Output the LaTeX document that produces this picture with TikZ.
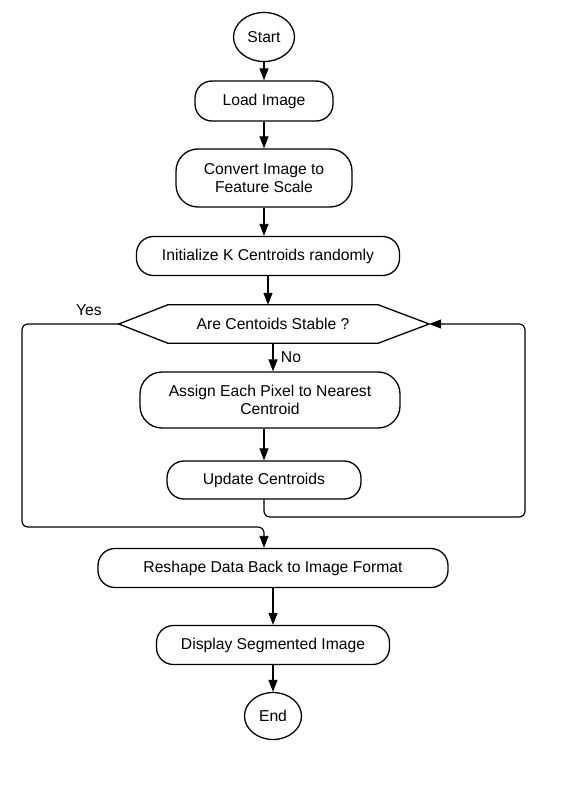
\documentclass[tikz,border=0pt]{standalone}
\usepackage{fontspec}
\setmainfont{Liberation Sans}
\usepackage{tikz}
\usetikzlibrary{positioning, arrows.meta, shapes.geometric}

\begin{document}
\begin{tikzpicture}[x=1pt, y=-1pt,
    font=\fontsize{15.7}{17.5}\selectfont,
    box/.style={draw, line width=1.3pt, rounded corners=17pt, align=center, inner sep=0pt},
    term/.style={draw, ellipse, line width=1.3pt, inner sep=0pt},
    flow/.style={line width=1.2pt, -{Triangle[length=12pt, width=9pt]}}]
    \useasboundingbox (0,0) rectangle (566,791);
    \node[term, minimum width=61pt, minimum height=49pt] (start) at (264,37) {Start};
    \node[box, minimum width=138pt, minimum height=40pt] (load) at (264,101) {Load Image};
    \node[box, minimum width=176pt, minimum height=58pt, rounded corners=22pt] (conv) at (264,178) {Convert Image to\\Feature Scale};
    \node[box, minimum width=263pt, minimum height=39pt] (init) at (268,256) {Initialize K Centroids randomly};
    \node[minimum width=210pt, minimum height=38pt, inner sep=0pt] (dec) at (273,324) {Are Centoids Stable ?};
    \draw[line width=1.3pt] (dec.north west) -- (dec.north east) -- ([xshift=51pt]dec.east) coordinate (decR)
        -- (dec.south east) -- (dec.south west) -- ([xshift=-49pt]dec.west) coordinate (decL) -- cycle;
    \node (yes) at (89,310) {Yes};
    \node (no) at (291,357) {No};
    \node[box, minimum width=260pt, minimum height=56pt, rounded corners=22pt] (assign) at (270,400) {Assign Each Pixel to Nearest\\Centroid};
    \node[box, minimum width=194pt, minimum height=38pt] (upd) at (264,480) {Update Centroids};
    \node[box, minimum width=350pt, minimum height=39pt] (reshape) at (273,568) {Reshape Data Back to Image Format};
    \node[box, minimum width=233pt, minimum height=39pt] (display) at (273,645) {Display Segmented Image};
    \node[term, minimum width=57pt, minimum height=47pt] (finish) at (273,716) {End};
    \coordinate (loopL) at (22,527);
    \coordinate (loopR) at (525,517);
    \draw[flow] (start) -- (load);
    \draw[flow] (load) -- (conv);
    \draw[flow] (conv.south) -- (conv.south |- init.north);
    \draw[flow] (init.south) -- (init.south |- dec.north);
    \draw[flow] (dec.south) -- (dec.south |- assign.north);
    \draw[flow] (upd.north |- assign.south) -- (upd.north);
    \draw[flow, rounded corners=6pt] (upd.south) |- (loopR) |- (decR);
    \draw[flow, rounded corners=6pt] (decL) -| (loopL) -| ([xshift=-9pt]reshape.north);
    \draw[flow] (reshape) -- (display);
    \draw[flow] (display) -- (finish);
\end{tikzpicture}
\end{document}
